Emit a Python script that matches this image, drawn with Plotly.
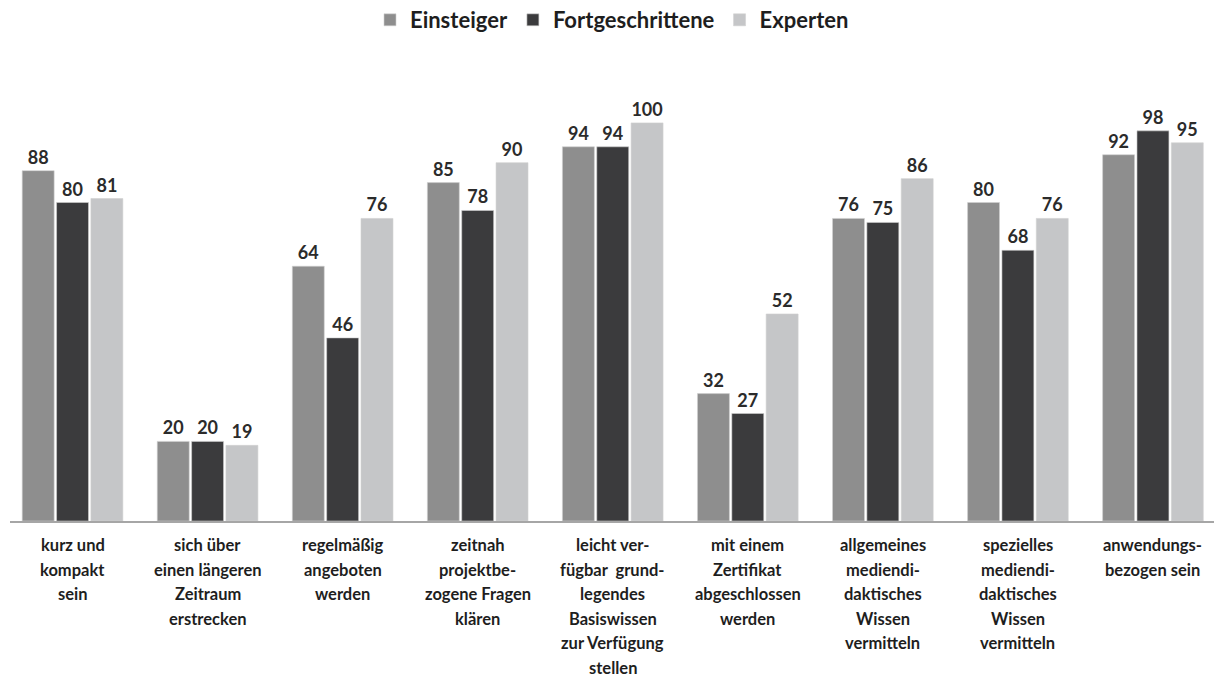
import plotly.graph_objects as go

categories = [
    "kurz und<br>kompakt<br>sein",
    "sich über<br>einen längeren<br>Zeitraum<br>erstrecken",
    "regelmäßig<br>angeboten<br>werden",
    "zeitnah<br>projektbe-<br>zogene Fragen<br>klären",
    "leicht ver-<br>fügbar  grund-<br>legendes<br>Basiswissen<br>zur Verfügung<br>stellen",
    "mit einem<br>Zertifikat<br>abgeschlossen<br>werden",
    "allgemeines<br>mediendi-<br>daktisches<br>Wissen<br>vermitteln",
    "spezielles<br>mediendi-<br>daktisches<br>Wissen<br>vermitteln",
    "anwendungs-<br>bezogen sein",
]
einsteiger = [88, 20, 64, 85, 94, 32, 76, 80, 92]
fortgeschrittene = [80, 20, 46, 78, 94, 27, 75, 68, 98]
experten = [81, 19, 76, 90, 100, 52, 86, 76, 95]

series = [
    ("Einsteiger", einsteiger, "#8e8e8e"),
    ("Fortgeschrittene", fortgeschrittene, "#3b3b3d"),
    ("Experten", experten, "#c5c6c8"),
]

FONT = "Lato"
xs = list(range(len(categories)))

fig = go.Figure()
for name, vals, col in series:
    fig.add_trace(go.Bar(
        x=xs, y=vals, name=name, legendgroup=name,
        marker=dict(color=col, line=dict(color="#d0d0d0", width=0.6)),
        text=[str(v) for v in vals], textposition="outside",
        textfont=dict(family=FONT, size=18, color="#2b2b2b", weight="bold"),
        cliponaxis=False,
    ))

annotations = []
for i, cat in enumerate(categories):
    for j, line in enumerate(cat.split("<br>")):
        annotations.append(dict(
            x=i, xref="x", y=0, yref="paper",
            text=line, showarrow=False,
            xanchor="center", yanchor="middle",
            yshift=-(24 + j * 24.6),
            font=dict(family=FONT, size=16.5, color="#1e1e1e", weight="bold"),
        ))

fig.update_layout(
    width=1214, height=677,
    margin=dict(l=10, r=0, t=103, b=156),
    paper_bgcolor="white", plot_bgcolor="white",
    barmode="group", bargap=0.237, bargroupgap=0.07,
    font=dict(family=FONT, color="#1e1e1e"),
    legend=dict(
        orientation="h", x=0.5, xanchor="center",
        y=1 - 20 / 677, yref="container", yanchor="middle",
        font=dict(family=FONT, size=22, color="#1e1e1e", weight="bold"),
        itemwidth=30, tracegroupgap=14,
    ),
    annotations=annotations,
    showlegend=True,
)
fig.update_xaxes(
    range=[-0.463, 8.452], showticklabels=False, ticks="",
    showline=True, linecolor="#a6a6a6", linewidth=1.5,
    showgrid=False, zeroline=False, fixedrange=True,
)
fig.update_yaxes(
    range=[0, 105], visible=False, showgrid=False, zeroline=False,
    fixedrange=True,
)

fig.write_html(
    "out.html",
    config={"displayModeBar": False},
    post_script="document.body.style.margin='0';",
)
